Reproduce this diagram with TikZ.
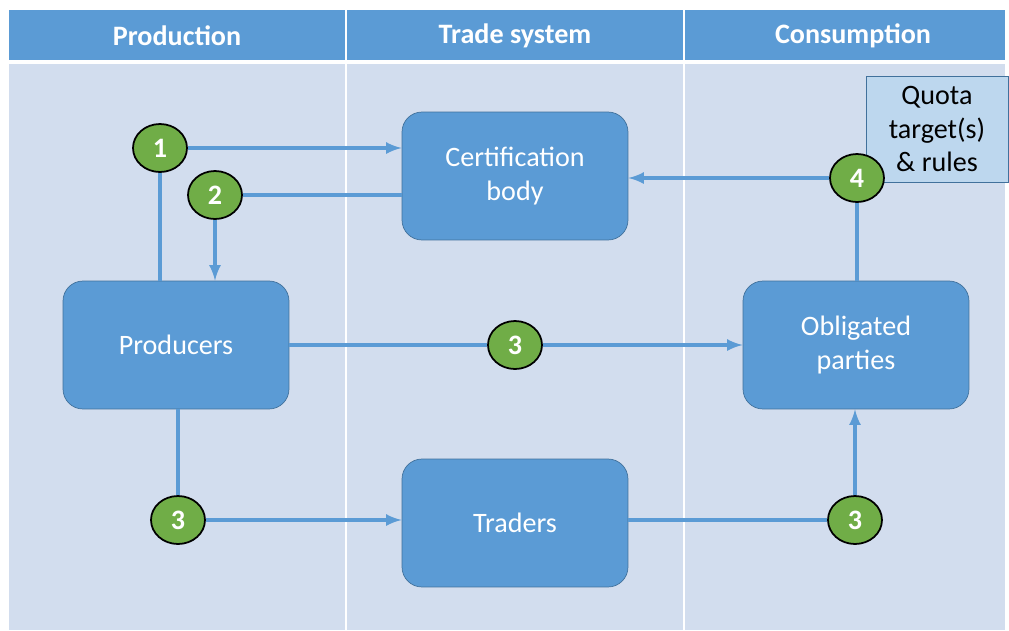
\documentclass[tikz,border=0pt]{standalone}
\usepackage{fontspec}
\setmainfont{Carlito}
\usetikzlibrary{positioning,shapes.geometric}

\definecolor{hdrblue}{HTML}{5B9BD5}
\definecolor{lanebg}{HTML}{D2DDEE}
\definecolor{boxedge}{HTML}{41719C}
\definecolor{stepgreen}{HTML}{70AD47}
\definecolor{quotafill}{HTML}{BDD7EE}

\tikzset{
    lanehead/.style={text=white, font=\bfseries\fontsize{16}{19}\selectfont},
    process/.style={draw=boxedge, fill=hdrblue, rounded corners=0.4cm, minimum width=4.52cm,
        minimum height=2.56cm, text=white, align=center, font=\fontsize{16}{19}\selectfont},
    num/.style={ellipse, draw=black, line width=1pt, fill=stepgreen, minimum width=1.08cm,
        minimum height=0.96cm, inner sep=0pt, text=white, font=\bfseries\fontsize{16}{19}\selectfont},
    flow/.style={draw=hdrblue, line width=2pt, >=latex},
}

\begin{document}
\begin{tikzpicture}[x=0.02cm, y=-0.02cm]
            \useasboundingbox (0,0) rectangle (1009,630);
            % lanes
            \fill [hdrblue] (9,10) rectangle (1005,60);
            \fill [lanebg] (9,64) rectangle (1005,630);
            \draw [white, line width=1.2pt] (346,10) -- (346,630) (684,10) -- (684,630);
            \node [lanehead] (hprod) at (177,36) {Production};
            \node [lanehead] (htrade) at (515,36) {Trade system};
            \node [lanehead] (hcons) at (853,36) {Consumption};
            % boxes
            \node [process] (cert) at (515,176) {Certification\\body};
            \node [process] (prod) at (176,345) {Producers};
            \node [process] (oblig) at (856,345) {Obligated\\parties};
            \node [process] (traders) at (515,523) {Traders};
            \node [draw=boxedge, fill=quotafill, minimum width=2.84cm, minimum height=2.12cm,
                align=center, font=\fontsize{16}{19}\selectfont] (quota) at (937,129) {Quota\\target(s)\\\& rules};
            % steps
            \node [num] (s1) at (160,148) {1};
            \node [num] (s2) at (215,195) {2};
            \node [num] (s3m) at (515,345) {3};
            \node [num] (s3a) at (178,520) {3};
            \node [num] (s3b) at (855,520) {3};
            \node [num] (s4) at (857,178) {4};
            % flows
            \draw [flow, ->] (s1) -- (s1 -| cert.west);
            \draw [flow] (s1) -- (s1 |- prod.north);
            \draw [flow] (cert.west |- s2) -- (s2);
            \draw [flow, ->] (s2) -- (s2 |- prod.north);
            \draw [flow] (prod) -- (s3m);
            \draw [flow, ->] (s3m) -- (oblig);
            \draw [flow] (prod.south -| s3a) -- (s3a);
            \draw [flow, ->] (s3a) -- (s3a -| traders.west);
            \draw [flow] (traders.east |- s3b) -- (s3b);
            \draw [flow, ->] (s3b) -- (s3b |- oblig.south);
            \draw [flow] (s4 |- oblig.north) -- (s4);
            \draw [flow, ->] (s4) -- (s4 -| cert.east);
        \end{tikzpicture}
\end{document}
